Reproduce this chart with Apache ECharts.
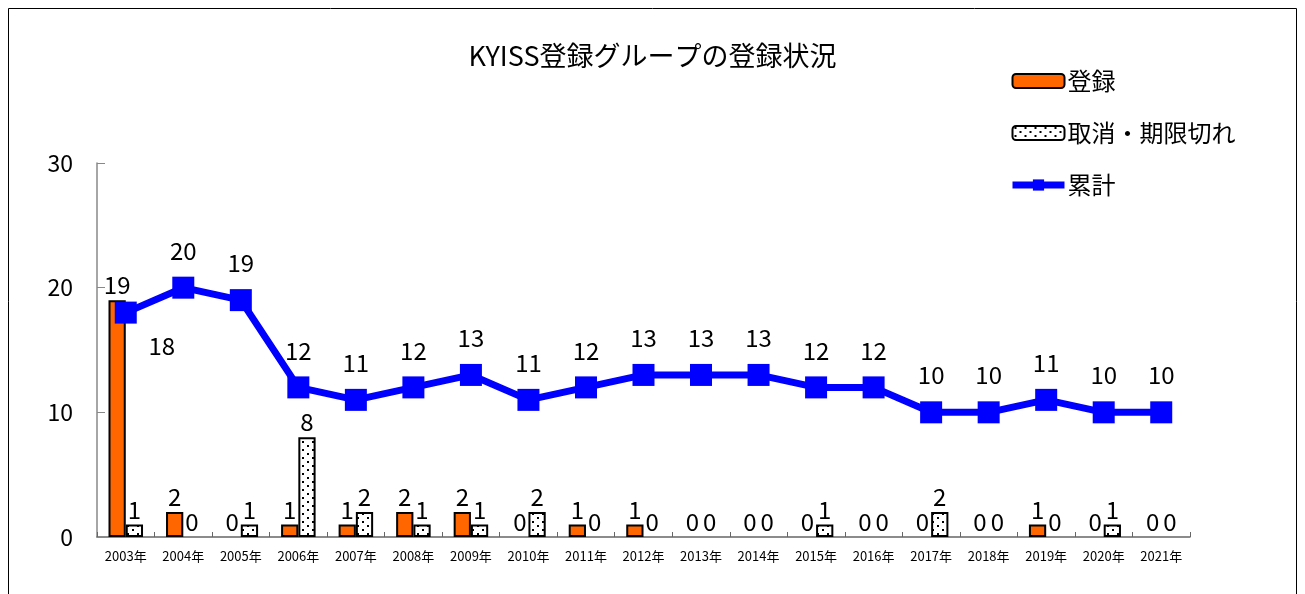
<!DOCTYPE html>
<html>
<head>
<meta charset="utf-8">
<script src="https://cdn.jsdelivr.net/npm/echarts@6/dist/echarts.min.js"></script>
<style>
  html, body { margin: 0; padding: 0; background: #fff; }
  #chart { width: 1305px; height: 594px; }
</style>
</head>
<body>
<div id="chart"></div>
<script>
const years = ['2003年', '2004年', '2005年', '2006年', '2007年', '2008年', '2009年', '2010年', '2011年', '2012年',
  '2013年', '2014年', '2015年', '2016年', '2017年', '2018年', '2019年', '2020年', '2021年'];
const registered = [19, 2, 0, 1, 1, 2, 2, 0, 1, 1, 0, 0, 0, 0, 0, 0, 1, 0, 0];
const cancelled = [1, 0, 1, 8, 2, 1, 1, 2, 0, 0, 0, 0, 1, 0, 2, 0, 0, 1, 0];
const cumulative = [18, 20, 19, 12, 11, 12, 13, 11, 12, 13, 13, 13, 12, 12, 10, 10, 11, 10, 10];
const yTicks = [0, 10, 20, 30];

const font = '"Noto Sans CJK JP", "Noto Sans", sans-serif';

// dotted fill for the cancelled bars
const makeDots = () => {
  const c = document.createElement('canvas');
  c.width = 10; c.height = 8;
  const ctx = c.getContext('2d');
  ctx.fillStyle = '#fff';
  ctx.fillRect(0, 0, 10, 8);
  ctx.fillStyle = '#000';
  ctx.fillRect(2, 1, 2, 2);
  ctx.fillRect(7, 5, 2, 2);
  return c;
};

// zero bars get no outline so only the label shows
const barItems = arr => arr.map(v => v === 0 ? { value: v, itemStyle: { borderWidth: 0 } } : v);

const chart = echarts.init(document.getElementById('chart'));

const lineData = cumulative.map((v, i) => {
  if (i === 0) {
    return { value: v, label: { position: 'bottom', offset: [36, -4] } };
  }
  return v;
});

const labelStyle = { show: true, fontSize: 24, color: '#000', fontFamily: font };

chart.setOption({
  animation: false,
  textStyle: { fontFamily: font },
  title: {
    text: 'KYISS登録グループの登録状況',
    left: 'center',
    top: 37,
    textStyle: { fontSize: 27, fontWeight: 'normal', color: '#000', fontFamily: font }
  },
  graphic: [{
    type: 'rect',
    shape: { x: 8.5, y: 8.5, width: 1288, height: 620 },
    style: { fill: 'none', stroke: '#000', lineWidth: 1 },
    silent: true
  }],
  legend: {
    orient: 'vertical',
    left: 1004,
    top: 64,
    itemWidth: 52,
    itemHeight: 14,
    itemGap: 28,
    textStyle: { fontSize: 24, color: '#000', fontFamily: font, padding: [0, 0, 0, -2] },
    data: [
      '登録',
      '取消・期限切れ',
      { name: '累計', lineStyle: { width: 7 } }
    ]
  },
  grid: { left: 97, right: 115, top: 163, bottom: 57 },
  xAxis: {
    type: 'category',
    data: years,
    axisLine: { lineStyle: { color: '#666', width: 1.5 } },
    axisTick: { show: true, inside: true, length: 5, lineStyle: { color: '#666' } },
    axisLabel: { interval: 0, fontSize: 13, color: '#000', margin: 13, fontFamily: font }
  },
  yAxis: {
    type: 'value',
    min: yTicks[0],
    max: yTicks[yTicks.length - 1],
    interval: 10,
    splitLine: { show: false },
    axisLine: { show: true, lineStyle: { color: '#888', width: 1.5 } },
    axisTick: { show: true, inside: true, length: 8, lineStyle: { color: '#888' } },
    axisLabel: { fontSize: 23, color: '#000', margin: 24, fontFamily: font }
  },
  series: [
    {
      name: '登録',
      type: 'bar',
      data: barItems(registered),
      barGap: '0%',
      barCategoryGap: '40%',
      itemStyle: { color: '#FF6600', borderColor: '#000', borderWidth: 2 },
      label: { ...labelStyle, position: 'top', distance: 3 }
    },
    {
      name: '取消・期限切れ',
      type: 'bar',
      data: barItems(cancelled),
      itemStyle: { color: { image: makeDots(), repeat: 'repeat' }, borderColor: '#000', borderWidth: 2 },
      label: { ...labelStyle, position: 'top', distance: 3 }
    },
    {
      name: '累計',
      type: 'line',
      data: lineData,
      symbol: 'rect',
      symbolSize: 22,
      lineStyle: { color: '#0000FF', width: 7 },
      itemStyle: { color: '#0000FF' },
      label: { ...labelStyle, position: 'top', distance: 14 },
      z: 5
    }
  ]
});
</script>
</body>
</html>
